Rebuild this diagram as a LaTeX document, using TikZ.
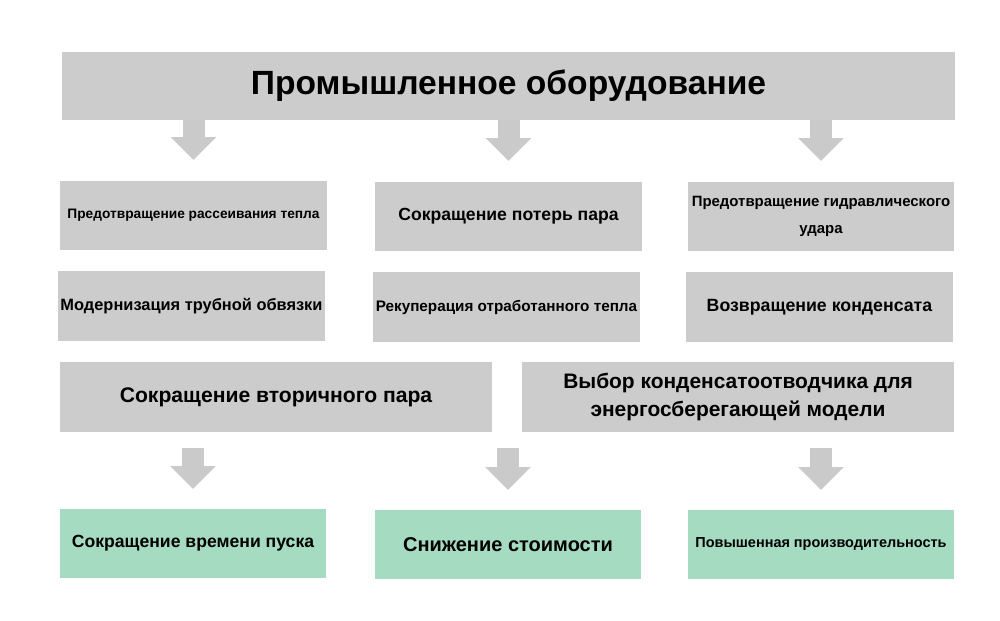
\documentclass[tikz,border=0pt]{standalone}
\usepackage{fontspec}
\setmainfont{Liberation Sans}
\usetikzlibrary{arrows.meta}
\definecolor{boxgrey}{HTML}{CCCCCC}
\definecolor{boxgreen}{HTML}{A5DBC0}
\definecolor{arrowgrey}{HTML}{CACACA}

\begin{document}
\begin{tikzpicture}[x=0.75pt,y=-0.75pt,
  greybox/.style={fill=boxgrey,minimum width=200pt,minimum height=52pt,inner sep=0pt,outer sep=0pt,align=center},
  greenbox/.style={greybox,fill=boxgreen},
  bigarrow/.style={draw=arrowgrey,line width=16.5pt,-{Triangle[width=33pt,length=17pt]}}]
  \useasboundingbox (0,0) rectangle (1000,621);
  % title bar
  \node[greybox,minimum width=670pt,minimum height=51pt,font=\bfseries\fontsize{25.2}{30}\selectfont] (title) at (508.5,86) {Промышленное оборудование};
  % first row
  \node[greybox,font=\bfseries\fontsize{10.3}{12}\selectfont] (p1) at (193.5,215.5) {Предотвращение рассеивания тепла};
  \node[greybox,font=\bfseries\fontsize{13.2}{15}\selectfont] (p2) at (508.5,216.5) {Сокращение потерь пара};
  \node[greybox,font=\bfseries\fontsize{11.2}{20.3}\selectfont] (p3) at (821,216.5) {Предотвращение гидравлического\\удара};
  % second row
  \node[greybox,font=\bfseries\fontsize{12.3}{14}\selectfont] (m1) at (191.5,306) {Модернизация трубной обвязки};
  \node[greybox,font=\bfseries\fontsize{11.45}{13}\selectfont] (m2) at (506.5,307) {Рекуперация отработанного тепла};
  \node[greybox,font=\bfseries\fontsize{13.3}{15}\selectfont] (m3) at (819.5,307) {Возвращение конденсата};
  % third row
  \node[greybox,minimum width=324pt,font=\bfseries\fontsize{15.85}{18}\selectfont] (s1) at (276,397) {Сокращение вторичного пара};
  \node[greybox,minimum width=324pt,font=\bfseries\fontsize{15.7}{20.3}\selectfont] (s2) at (738,397) {Выбор конденсатоотводчика для\\энергосберегающей модели};
  % results
  \node[greenbox,font=\bfseries\fontsize{13.2}{15}\selectfont] (g1) at (193,543.5) {Сокращение времени пуска};
  \node[greenbox,font=\bfseries\fontsize{15}{17}\selectfont] (g2) at (508,544.5) {Снижение стоимости};
  \node[greenbox,font=\bfseries\fontsize{10.85}{13}\selectfont] (g3) at (821,544.5) {Повышенная производительность};
  % arrows
  \draw[bigarrow,shorten >=15.75pt] (p1.north |- title.south) -- (p1.north);
  \draw[bigarrow,shorten >=15.75pt] (p2.north |- title.south) -- (p2.north);
  \draw[bigarrow,shorten >=15.75pt] (p3.north |- title.south) -- (p3.north);
  \draw[bigarrow,shorten <=12pt,shorten >=15pt] (g1.north |- s1.south) -- (g1.north);
  \draw[bigarrow,shorten <=12pt,shorten >=15pt] (g2.north |- s1.south) -- (g2.north);
  \draw[bigarrow,shorten <=12pt,shorten >=15pt] (g3.north |- s2.south) -- (g3.north);
\end{tikzpicture}
\end{document}
